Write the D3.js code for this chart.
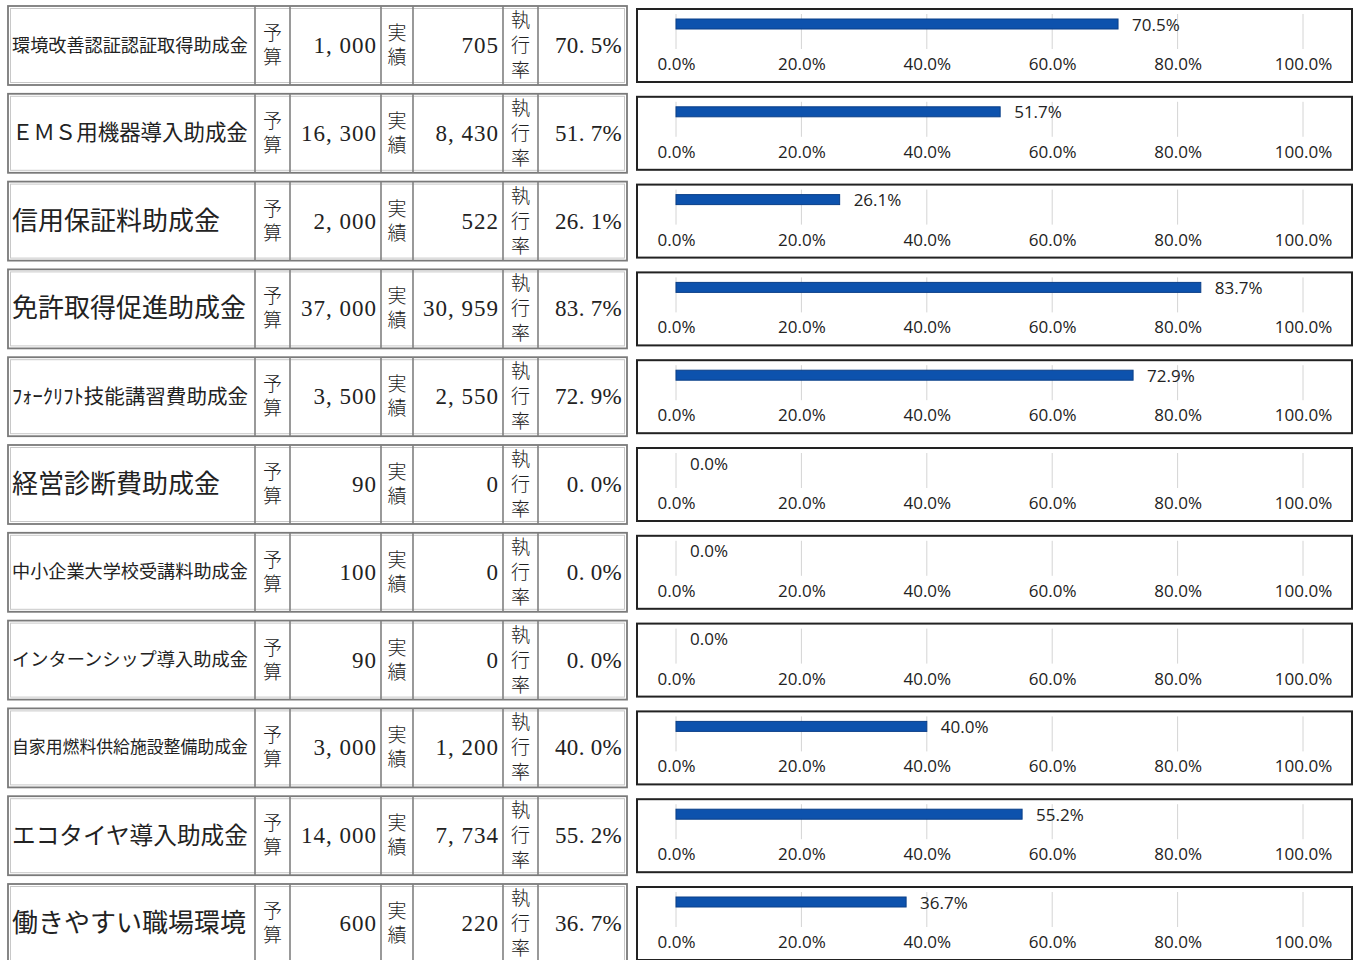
<!DOCTYPE html>
<html>
<head>
<meta charset="utf-8">
<script src="https://cdn.jsdelivr.net/npm/d3@7"></script>
<style>
  body { margin: 0; background: #fff; }
  svg { display: block; }
  .cell { font-family: "Liberation Serif", "Noto Sans CJK JP", serif; fill: #222; }
  .tick text { font-family: "Open Sans", "Noto Sans", sans-serif; font-size: 17px; fill: #222; }
</style>
</head>
<body>
<div id="chart"></div>
<script>
(function() {
  const names = ['環境改善認証認証取得助成金', 'ＥＭＳ用機器導入助成金', '信用保証料助成金', '免許取得促進助成金',
    'ﾌｫｰｸﾘﾌﾄ技能講習費助成金', '経営診断費助成金', '中小企業大学校受講料助成金', 'インターンシップ導入助成金',
    '自家用燃料供給施設整備助成金', 'エコタイヤ導入助成金', '働きやすい職場環境'];
  const budget = [1000, 16300, 2000, 37000, 3500, 90, 100, 90, 3000, 14000, 600];
  const actual = [705, 8430, 522, 30959, 2550, 0, 0, 0, 1200, 7734, 220];
  const rate = [0.705, 0.517, 0.261, 0.837, 0.729, 0, 0, 0, 0.400, 0.552, 0.367];
  const ticks = [0, 0.2, 0.4, 0.6, 0.8, 1.0];

  const width = 1360, height = 960;
  const rowTop = 6, rowStep = 87.8, rowH = 79;

  const svg = d3.select('#chart')
    .append('svg')
      .attr('width', width)
      .attr('height', height);

  // table columns (left edges) : name | 予算 | budget | 実績 | actual | 執行率 | rate
  const cols = [8, 255, 290, 381, 413, 503, 538, 627];

  const x = d3.scaleLinear().domain([0, 1]).range([676, 1303]);
  const fmtNum = v => d3.format(',')(v).replace(/,/g, ', ');
  const fmtPct = d3.format('.1%');

  const rows = svg.selectAll('.row')
    .data(names.map((n, i) => ({ name: n, budget: budget[i], actual: actual[i], rate: rate[i] })))
    .enter().append('g')
      .attr('class', 'row')
      .attr('transform', (d, i) => `translate(0, ${rowTop + i * rowStep})`);

  /*
    Table part
  */
  rows.append('rect')
    .attr('x', cols[0]).attr('y', 0)
    .attr('width', cols[7] - cols[0]).attr('height', rowH)
    .attr('fill', 'none').attr('stroke', '#7a7a7a').attr('stroke-width', 1.8);

  rows.append('rect')
    .attr('x', cols[0] + 2.5).attr('y', 2.5)
    .attr('width', cols[7] - cols[0] - 5).attr('height', rowH - 5)
    .attr('fill', 'none').attr('stroke', '#c8c8c8').attr('stroke-width', 1);

  cols.slice(1, 7).forEach(cx => {
    rows.append('line')
      .attr('x1', cx).attr('x2', cx).attr('y1', 0).attr('y2', rowH)
      .attr('stroke', '#808080').attr('stroke-width', 1.6);
  });

  // name, shrunk to fit the cell
  rows.append('text')
    .attr('class', 'cell')
    .attr('x', 12)
    .attr('y', rowH / 2)
    .attr('dominant-baseline', 'central')
    .style('font-size', '26px')
    .text(d => d.name)
    .each(function() {
      const w = this.getComputedTextLength();
      const size = Math.min(26, 26 * 236 / w);
      d3.select(this).style('font-size', size + 'px');
    });

  // stacked labels
  function stacked(chars, x0, x1, size, gap) {
    const n = chars.length;
    chars.split('').forEach((c, k) => {
      rows.append('text')
        .attr('class', 'cell')
        .attr('x', (x0 + x1) / 2)
        .attr('y', rowH / 2 + (k - (n - 1) / 2) * gap)
        .attr('text-anchor', 'middle')
        .attr('dominant-baseline', 'central')
        .style('font-size', size + 'px')
        .style('font-weight', 300)
        .text(c);
    });
  }
  stacked('予算', cols[1], cols[2], 19, 24);
  stacked('実績', cols[3], cols[4], 19, 24);
  stacked('執行率', cols[5], cols[6], 19, 25);

  rows.append('text')
    .attr('class', 'cell')
    .attr('x', cols[3] - 4).attr('y', rowH / 2)
    .attr('text-anchor', 'end').attr('dominant-baseline', 'central')
    .style('font-size', '23px').style('letter-spacing', '1px')
    .text(d => fmtNum(d.budget));

  rows.append('text')
    .attr('class', 'cell')
    .attr('x', cols[5] - 4).attr('y', rowH / 2)
    .attr('text-anchor', 'end').attr('dominant-baseline', 'central')
    .style('font-size', '23px').style('letter-spacing', '1px')
    .text(d => fmtNum(d.actual));

  rows.append('text')
    .attr('class', 'cell')
    .attr('x', cols[7] - 5).attr('y', rowH / 2)
    .attr('text-anchor', 'end').attr('dominant-baseline', 'central')
    .style('font-size', '23px').style('letter-spacing', '0.3px')
    .text(d => fmtPct(d.rate).replace('.', '. '));

  /*
    Chart part : one small bar chart per row
  */
  const boxX = 637, boxW = 1352 - 637, boxY = 3, boxH = 73;

  rows.append('rect')
    .attr('x', boxX).attr('y', boxY)
    .attr('width', boxW).attr('height', boxH)
    .attr('fill', '#fff').attr('stroke', '#222').attr('stroke-width', 2);

  rows.each(function(d) {
    const g = d3.select(this);

    // grid
    g.selectAll('.grid')
      .data(ticks)
      .enter().append('line')
        .attr('class', 'grid')
        .attr('x1', t => x(t)).attr('x2', t => x(t))
        .attr('y1', boxY + 5).attr('y2', boxY + 40)
        .attr('stroke', '#d4d4d4').attr('stroke-width', 1);

    // axis labels
    const axis = g.append('g')
      .attr('transform', `translate(0, ${boxY + 45})`)
      .call(d3.axisBottom(x).tickValues(ticks).tickFormat(d3.format('.1%')).tickSize(0).tickPadding(4));
    axis.select('.domain').remove();

    // bar
    g.append('rect')
      .attr('x', x(0))
      .attr('y', boxY + 10)
      .attr('width', x(d.rate) - x(0))
      .attr('height', 10)
      .attr('fill', '#0d52ad')
      .attr('stroke', d.rate > 0 ? '#0a3f88' : 'none')
      .attr('stroke-width', 1);

    g.append('text')
      .attr('x', x(d.rate) + 14)
      .attr('y', boxY + 15)
      .attr('dominant-baseline', 'central')
      .style('font-family', '"Open Sans", "Noto Sans", sans-serif')
      .style('font-size', '17px')
      .style('fill', '#222')
      .text(fmtPct(d.rate));
  });

})();
</script>
</body>
</html>
